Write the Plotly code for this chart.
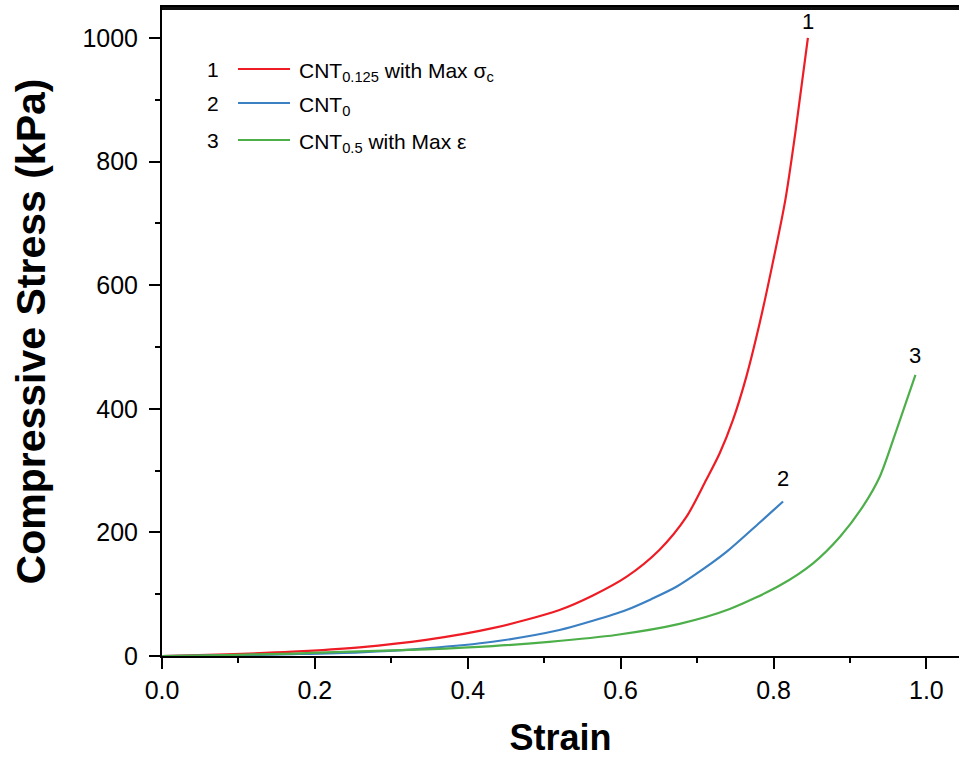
import plotly.graph_objects as go

# ---- data ----
strain_1 = [0.0, 0.084, 0.171, 0.2585, 0.3455, 0.4325, 0.520, 0.5637, 0.6075, 0.651, 0.686, 0.712, 0.7296, 0.747, 0.7645, 0.782, 0.798, 0.8155, 0.8285, 0.845]
stress_1 = [0.0, 2.7, 7.0, 14.0, 26.0, 45.0, 74.5, 98.0, 128.0, 172.0, 225.0, 285.0, 328.0, 382.0, 452.0, 539.0, 630.0, 738.0, 846.0, 1000.0]

strain_2 = [0.0, 0.084, 0.171, 0.2585, 0.3455, 0.4325, 0.520, 0.5636, 0.6075, 0.640, 0.673, 0.705, 0.738, 0.782, 0.8125]
stress_2 = [0.0, 1.0, 3.0, 6.0, 12.4, 23.0, 42.0, 57.0, 74.5, 92.0, 112.0, 138.0, 168.0, 216.0, 250.0]

strain_3 = [0.0, 0.084, 0.171, 0.2585, 0.3455, 0.4325, 0.5065, 0.5936, 0.677, 0.7427, 0.808, 0.8517, 0.887, 0.917, 0.939, 0.961, 0.9857]
stress_3 = [0.0, 1.5, 4.0, 7.5, 10.8, 16.0, 23.0, 34.0, 52.0, 76.0, 114.0, 150.0, 193.0, 242.0, 290.0, 366.0, 455.0]

series_names = ["CNT<sub>0.125</sub> with Max σ<sub>c</sub>", "CNT<sub>0</sub>", "CNT<sub>0.5</sub> with Max ε"]
series_ids = ["1", "2", "3"]
colors = ["#EE1C25", "#3B80C3", "#4DAF4A"]

x_ticks = [0.0, 0.2, 0.4, 0.6, 0.8, 1.0]
y_ticks = [0, 200, 400, 600, 800, 1000]

# ---- layout geometry ----
W, H = 959, 760
ML, MR, MT, MB = 162, 0, 7, 104
PW, PH = W - ML - MR, H - MT - MB

def px(xp):
    return (xp - ML) / PW

def py(yp):
    return (H - MB - yp) / PH

FONT = "Liberation Sans, Arial, sans-serif"

fig = go.Figure()
xs = [strain_1, strain_2, strain_3]
ys = [stress_1, stress_2, stress_3]
for i in range(3):
    fig.add_trace(go.Scatter(
        x=xs[i], y=ys[i], mode="lines", name=series_names[i],
        line=dict(color=colors[i], width=2.2, shape="spline", smoothing=0.8),
        showlegend=False, hoverinfo="x+y"))

# end labels
end_labels = [
    dict(x=strain_1[-1], y=stress_1[-1], yshift=16, text="1"),
    dict(x=strain_2[-1], y=stress_2[-1], yshift=23, text="2"),
    dict(x=strain_3[-1], y=stress_3[-1], yshift=19, text="3"),
]
annotations = []
for lab in end_labels:
    annotations.append(dict(x=lab["x"], y=lab["y"], xref="x", yref="y", text=lab["text"],
                            showarrow=False, yshift=lab["yshift"], xanchor="center", yanchor="middle",
                            font=dict(family=FONT, size=22, color="black")))

# manual legend
rows_y = [69, 103, 140]
shapes = []
for i in range(3):
    annotations.append(dict(x=px(213), y=py(rows_y[i]), xref="paper", yref="paper", text=series_ids[i],
                            showarrow=False, xanchor="center", yanchor="middle",
                            font=dict(family=FONT, size=21, color="black")))
    shapes.append(dict(type="line", xref="paper", yref="paper", x0=px(238), x1=px(290),
                       y0=py(rows_y[i]), y1=py(rows_y[i]), line=dict(color=colors[i], width=2.2)))
    annotations.append(dict(x=px(297), y=py(rows_y[i] + 3), xref="paper", yref="paper", text=series_names[i],
                            showarrow=False, xanchor="left", yanchor="middle",
                            font=dict(family=FONT, size=21, color="black")))

# top frame line
shapes.append(dict(type="line", xref="paper", yref="paper", x0=0, x1=1, y0=py(8.5), y1=py(8.5),
                   layer="above", line=dict(color="#111111", width=3)))

axis_common = dict(showline=True, linecolor="black", linewidth=2, ticks="outside", ticklen=11,
                   tickwidth=2, tickcolor="black", showgrid=False, zeroline=False, automargin=False,
                   tickfont=dict(family=FONT, size=25, color="black"))

fig.update_layout(
    width=W, height=H,
    margin=dict(l=ML, r=MR, t=MT, b=MB, autoexpand=False),
    paper_bgcolor="white", plot_bgcolor="white",
    xaxis=dict(range=[0, (W - ML - 0.4) / 764.0], tickvals=x_ticks, ticktext=[f"{v:.1f}" for v in x_ticks],
               mirror=True,
               minor=dict(dtick=0.1, ticklen=5, tickwidth=2, tickcolor="black", ticks="outside"),
               title=dict(text="<b>Strain</b>", font=dict(family=FONT, size=36, color="black"), standoff=22),
               **axis_common),
    yaxis=dict(range=[0, 1050], tickvals=y_ticks, ticktext=[str(v) for v in y_ticks],
               ticklabelstandoff=6,
               minor=dict(dtick=100, ticklen=5, tickwidth=2, tickcolor="black", ticks="outside"),
               title=dict(text="<b>Compressive Stress (kPa)</b>", font=dict(family=FONT, size=41, color="black"), standoff=24),
               **axis_common),
    annotations=annotations,
    shapes=shapes,
)

fig.write_html("out.html", config={"displayModeBar": False},
               post_script="document.body.style.margin='0px';document.body.style.overflow='hidden';")
